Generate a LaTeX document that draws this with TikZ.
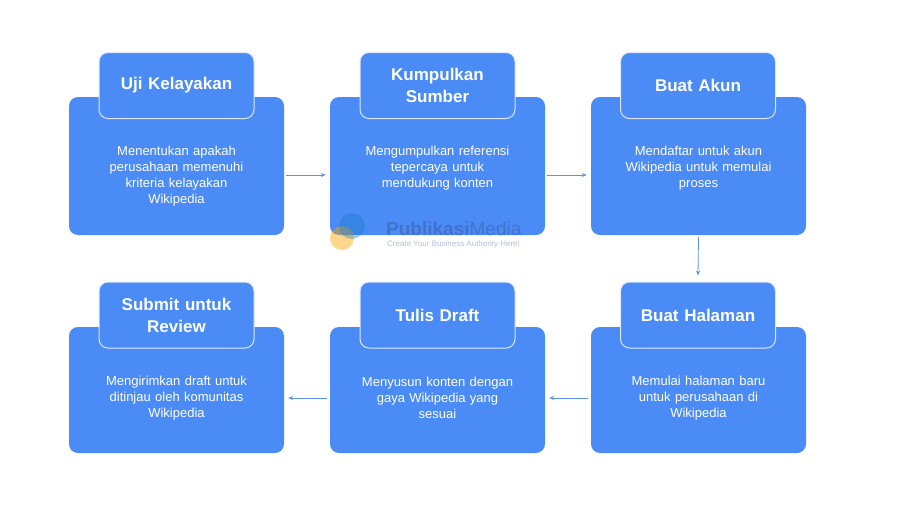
\documentclass[tikz,border=0pt]{standalone}
\usepackage{fontspec}
\setmainfont{Liberation Sans}
\usetikzlibrary{arrows.meta,calc}
\definecolor{cardblue}{HTML}{4A8BF5}
\definecolor{arrowblue}{HTML}{5B93E8}
\definecolor{wmblue}{HTML}{3F5FA8}
\tikzset{
  card/.style={draw=none,fill=cardblue,rounded corners=9pt,minimum width=215pt,inner sep=0pt},
  tab/.style={draw=white!80!cardblue,line width=1pt,fill=cardblue,rounded corners=9pt,minimum width=155pt,minimum height=66pt,inner sep=0pt},
  desc/.style={text=white,font=\fontsize{13}{16}\selectfont,align=center,text width=190pt},
  ttl/.style={text=white,font=\fontsize{17}{22}\selectfont\bfseries,align=center,text width=150pt},
  conn/.style={draw=arrowblue,line width=0.8pt,-{Stealth[length=5pt,width=4pt]}},
  wm/.style={text=wmblue,opacity=0.55,inner sep=0pt}
}
\begin{document}
\begin{tikzpicture}[x=1pt,y=-1pt]
\useasboundingbox (0,0) rectangle (900,506);
\fill[white] (0,0) rectangle (900,506);
\foreach \n/\x/\y/\h in {c1/176.5/166/138, c2/437.5/166/138, c3/698.5/166/138, c4/176.5/390/126, c5/437.5/390/126, c6/698.5/390/126}{
  \node[card,minimum height=\h pt] (\n) at (\x,\y) {};
}
\node[tab] (t1) at (176.5,85.5) {}; \node[ttl] (l1) at (t1.center) {Uji Kelayakan};
\node[tab] (t2) at (437.5,85.5) {}; \node[ttl] (l2) at (t2.center) {Kumpulkan\\Sumber};
\node[tab] (t3) at (698,85.5) {}; \node[ttl] (l3) at (t3.center) {Buat Akun};
\node[tab] (t4) at (176.5,315) {}; \node[ttl] (l4) at (t4.center) {Submit untuk\\Review};
\node[tab] (t5) at (437.5,315) {}; \node[ttl] (l5) at (t5.center) {Tulis Draft};
\node[tab] (t6) at (698,315) {}; \node[ttl] (l6) at (t6.center) {Buat Halaman};
\node[desc] (d1) at (176.5,176) {Menentukan apakah\\perusahaan memenuhi\\kriteria kelayakan\\Wikipedia};
\node[desc] (d2) at (437.5,168) {Mengumpulkan referensi\\tepercaya untuk\\mendukung konten};
\node[desc] (d3) at (698.5,168) {Mendaftar untuk akun\\Wikipedia untuk memulai\\proses};
\node[desc] (d4) at (176.5,398) {Mengirimkan draft untuk\\ditinjau oleh komunitas\\Wikipedia};
\node[desc] (d5) at (437.5,398) {Menyusun konten dengan\\gaya Wikipedia yang\\sesuai};
\node[desc] (d6) at (698.5,398) {Memulai halaman baru\\untuk perusahaan di\\Wikipedia};
\draw[conn] ($(c1.east)+(2,9)$) -- ($(c2.west)+(-4,9)$);
\draw[conn] ($(c2.east)+(2,9)$) -- ($(c3.west)+(-4,9)$);
\draw[conn] ($(c3.south)+(0,2)$) -- ($(t6.north)+(0,-6)$);
\draw[conn] ($(c6.west)+(-3,8)$) -- ($(c5.east)+(4,8)$);
\draw[conn] ($(c5.west)+(-3,8)$) -- ($(c4.east)+(4,8)$);
% watermark
\fill[orange!70!yellow,opacity=0.45] (342,238) circle (12);
\fill[cyan!60!blue,opacity=0.35] (352,226) circle (13);
\node[wm,anchor=west,font=\fontsize{19}{20}\selectfont\bfseries] (wm1) at (386,229) {Publikasi\mdseries Media};
\node[wm,anchor=west,font=\fontsize{8}{9}\selectfont,opacity=0.4] (wm2) at (387,244) {Create Your Business Authority Here!};
\end{tikzpicture}
\end{document}
